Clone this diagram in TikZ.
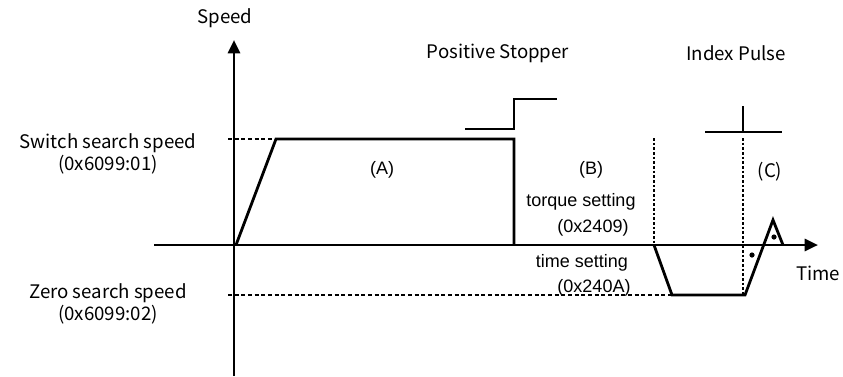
\documentclass[tikz,border=0pt]{standalone}
\usepackage{fontspec}
\newfontfamily\malgun{Noto Sans CJK KR}
\newfontfamily\arial{Liberation Sans}
\usetikzlibrary{arrows.meta}
\tikzset{
  axisline/.style={line width=2.1pt, -{Triangle[length=10pt,width=9pt]}},
  signal/.style={line width=2.1pt, line join=miter},
  levelline/.style={line width=1.7pt, dash pattern=on 3pt off 2pt},
  markline/.style={line width=1.7pt, dash pattern=on 2pt off 1.5pt},
  lbl/.style={font=\malgun\fontsize{14}{16}\selectfont, inner sep=0pt},
  albl/.style={font=\arial\fontsize{13.5}{15}\selectfont, inner sep=0pt},
}
\begin{document}
\begin{tikzpicture}[x=0.75pt, y=-0.75pt]
    \useasboundingbox (0,0) rectangle (843,376);

    % 坐标轴
    \coordinate (vbot) at (234,376);
    \coordinate (vtop) at (234,40);
    \coordinate (hleft) at (154,245);
    \coordinate (hright) at (818,245);
    \draw[axisline] (vbot) -- (vtop);
    \draw[axisline] (hleft) -- (hright);
    \node[lbl] (speed) at (225,18) {Speed};
    \node[lbl] (time) at (818,273) {Time};

    % 速度曲线 (A)
    \coordinate (a0) at (236,245);
    \coordinate (a1) at (276,139);
    \coordinate (a2) at (514,139);
    \coordinate (a3) at (514,245);
    \draw[signal] (a0) -- (a1) -- (a2) -- (a3);

    % 速度曲线 (B)(C)
    \coordinate (b0) at (654,245);
    \coordinate (b1) at (672,295);
    \coordinate (b2) at (745,295);
    \coordinate (c1) at (773,220);
    \coordinate (c2) at (783,245);
    \draw[signal] (b0) -- (b1) -- (b2) -- (c1) -- (c2);

    % 速度等级
    \coordinate (sw) at (228,139);
    \coordinate (zr) at (228,295);
    \draw[levelline] (sw) -- (a1);
    \draw[levelline] (zr) -- (b1);
    \node[lbl, align=center] (swlbl) at (108,154) {Switch search speed\\[1pt](0x6099:01)};
    \node[lbl, align=center] (zrlbl) at (108,304) {Zero search speed\\[1pt](0x6099:02)};

    % Positive Stopper 信号
    \coordinate (p0) at (465,129);
    \coordinate (p1) at (514,129);
    \coordinate (p2) at (514,99);
    \coordinate (p3) at (557,99);
    \draw[signal] (p0) -- (p1) -- (p2) -- (p3);
    \node[lbl] (stopper) at (498,53) {Positive Stopper};

    % Index Pulse 信号
    \coordinate (i0) at (743,106);
    \coordinate (i1) at (743,132);
    \coordinate (i2) at (705,132);
    \coordinate (i3) at (782,132);
    \draw[signal] (i0) -- (i1);
    \draw[signal] (i2) -- (i3);
    \node[lbl] (pulse) at (736,53) {Index Pulse};

    % 区间分隔线
    \coordinate (m0) at (654,138);
    \coordinate (m1) at (743,138);
    \coordinate (m2) at (743,295);
    \draw[markline] (m0) -- (b0);
    \draw[markline] (m1) -- (m2);

    % 小圆点
    \fill (752,255) circle (2.6);
    \fill (774,237) circle (2.6);

    % 区间标注
    \node[albl] (secA) at (382,170) {(A)};
    \node[albl] (secB) at (591,170) {(B)};
    \node[lbl] (secC) at (770,172) {(C)};
    \node[albl] (torque) at (581,202) {torque setting};
    \node[albl] (torqueid) at (593,228) {(0x2409)};
    \node[albl] (tset) at (582,263) {time setting};
    \node[albl] (tsetid) at (594,288) {(0x240A)};
\end{tikzpicture}
\end{document}
